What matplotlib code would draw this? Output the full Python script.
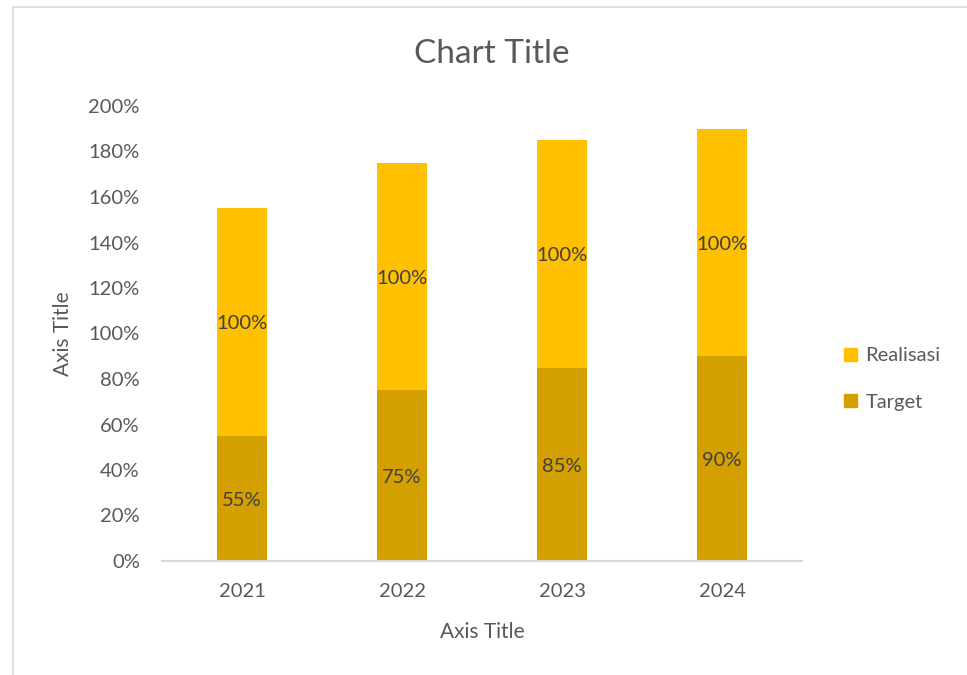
import matplotlib
matplotlib.use("Agg")
import matplotlib.pyplot as plt
from matplotlib.patches import Patch, Rectangle
import numpy as np

plt.rcParams['font.family'] = ['Lato', 'DejaVu Sans']

years = ["2021", "2022", "2023", "2024"]
target = [55, 75, 85, 90]
realisasi = [100, 100, 100, 100]
yticks = [0, 20, 40, 60, 80, 100, 120, 140, 160, 180, 200]

c_target = "#D4A000"
c_real = "#FFC000"
txt = "#595959"
lbl = "#404040"

fig = plt.figure(figsize=(9.67, 6.75), dpi=100)
W, H = 967, 675
ax = fig.add_axes([162 / W, 1 - 561 / H, (802 - 162) / W, (561 - 106) / H])

x = np.arange(len(years))
bw = 50 / 160
ax.bar(x, target, width=bw, color=c_target, label="Target", zorder=2)
ax.bar(x, realisasi, width=bw, bottom=target, color=c_real, label="Realisasi", zorder=2)

for i in range(len(years)):
    ax.text(x[i], target[i] / 2 - 0.8, f"{target[i]}%", ha="center", va="center",
            fontsize=14.5, color=lbl)
    ax.text(x[i], target[i] + realisasi[i] / 2 - 0.8, f"{realisasi[i]}%", ha="center",
            va="center", fontsize=14.5, color=lbl)

ax.set_xlim(-0.5, len(years) - 0.5)
ax.set_ylim(0, 200)
ax.set_yticks(yticks)
ax.set_yticklabels([f"{v}%" for v in yticks])
ax.set_xticks(x)
ax.set_xticklabels(years)
ax.tick_params(axis="both", length=0, labelsize=14.5, labelcolor=txt)
ax.tick_params(axis="y", pad=16)
ax.tick_params(axis="x", pad=16)
for s in ["top", "right", "left"]:
    ax.spines[s].set_visible(False)
ax.spines["bottom"].set_color("#D9D9D9")
ax.spines["bottom"].set_linewidth(1.5)

ax.set_xlabel("Axis Title", fontsize=15, color=txt, labelpad=16)
ax.set_ylabel("Axis Title", fontsize=15, color=txt, labelpad=11)

fig.text(492 / W, 1 - 54 / H, "Chart Title", ha="center", va="center",
         fontsize=24, color=txt)

handles = [Patch(color=c_real, label="Realisasi"), Patch(color=c_target, label="Target")]
fig.legend(handles=handles, loc="center left", bbox_to_anchor=(826 / W, 1 - 379 / H),
           frameon=False, fontsize=14.5, labelcolor=txt, handlelength=0.65,
           handleheight=0.65, handletextpad=0.4, labelspacing=1.45)

fig.patches.append(Rectangle((13 / W, -0.1), 1.2, 1 - 7 / H + 0.1, transform=fig.transFigure,
                             fill=False, edgecolor="#D9D9D9", linewidth=1.2))

fig.savefig("out.png", dpi=100)
